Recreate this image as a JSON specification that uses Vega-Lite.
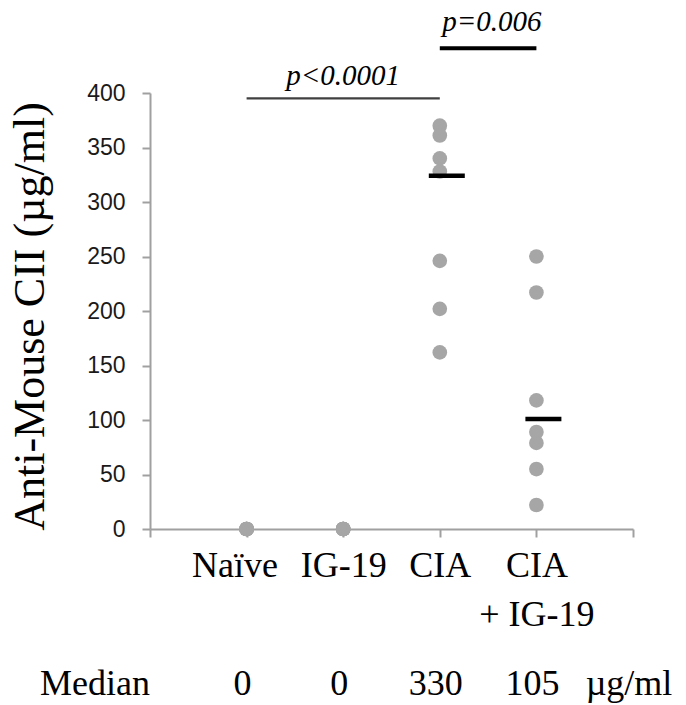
{
  "$schema": "https://vega.github.io/schema/vega-lite/v6.json",
  "width": 483,
  "height": 436,
  "autosize": {"type": "none"},
  "padding": {"left": 150, "top": 93, "right": 53, "bottom": 176},
  "background": "white",
  "config": {"view": {"stroke": null}},
  "datasets": {
    "points": [
      {"group": "Naïve", "value": 0}, {"group": "Naïve", "value": 0}, {"group": "Naïve", "value": 0},
      {"group": "Naïve", "value": 0}, {"group": "Naïve", "value": 0}, {"group": "Naïve", "value": 0},
      {"group": "IG-19", "value": 0}, {"group": "IG-19", "value": 0}, {"group": "IG-19", "value": 0},
      {"group": "IG-19", "value": 0}, {"group": "IG-19", "value": 0}, {"group": "IG-19", "value": 0},
      {"group": "CIA", "value": 370}, {"group": "CIA", "value": 361}, {"group": "CIA", "value": 340},
      {"group": "CIA", "value": 328}, {"group": "CIA", "value": 246}, {"group": "CIA", "value": 202},
      {"group": "CIA", "value": 162},
      {"group": "CIA + IG-19", "value": 250}, {"group": "CIA + IG-19", "value": 217}, {"group": "CIA + IG-19", "value": 118},
      {"group": "CIA + IG-19", "value": 89}, {"group": "CIA + IG-19", "value": 79}, {"group": "CIA + IG-19", "value": 55},
      {"group": "CIA + IG-19", "value": 22}
    ],
    "medians": [
      {"group": "CIA", "median": 324},
      {"group": "CIA + IG-19", "median": 101}
    ],
    "brackets": [
      {"from": "Naïve", "to": "CIA", "level": 395, "weight": "thin"},
      {"from": "CIA", "to": "CIA + IG-19", "level": 441, "weight": "thick"}
    ],
    "pvalues": [
      {"group": "IG-19", "level": 407, "label": "p<0.0001"},
      {"group": "CIA", "level": 457, "label": "p=0.006"}
    ],
    "medianRow": [
      {"group": "Median", "text": "Median"},
      {"group": "Naïve", "text": "0"},
      {"group": "IG-19", "text": "0"},
      {"group": "CIA", "text": "330"},
      {"group": "CIA + IG-19", "text": "105"},
      {"group": "µg/ml", "text": "µg/ml"}
    ]
  },
  "layer": [
    {
      "data": {"name": "points"},
      "mark": {"type": "circle", "size": 215, "color": "#a6a6a6", "opacity": 1},
      "encoding": {
        "x": {
          "field": "group", "type": "nominal",
          "title": null,
          "scale": {"type": "point", "domain": ["Median", "Naïve", "IG-19", "CIA", "CIA + IG-19", "µg/ml"], "padding": 0},
          "axis": {
            "title": null,
            "grid": false,
            "domainColor": "#a0a0a0", "domainWidth": 2,
            "tickColor": "#a0a0a0", "tickWidth": 2, "tickSize": 8,
            "labelFont": "Liberation Serif", "labelFontSize": 36, "labelColor": "black",
            "labelAngle": 0, "labelBaseline": "alphabetic", "labelPadding": 39,
            "labelLineHeight": 49, "labelOverlap": false, "labelBound": false, "labelFlush": false,
            "labelOffset": {"condition": {"test": "datum.value == 'Naïve'", "value": -12}, "value": 0},
            "labelExpr": "datum.value == 'CIA + IG-19' ? ['CIA', '+ IG-19'] : ((datum.value == 'Median' || datum.value == 'µg/ml') ? '' : datum.value)"
          }
        },
        "y": {
          "field": "value", "type": "quantitative",
          "title": "Anti-Mouse CII (µg/ml)",
          "scale": {"domain": [0, 400], "nice": false, "zero": true},
          "axis": {
            "values": [0, 50, 100, 150, 200, 250, 300, 350, 400],
            "grid": false,
            "domainColor": "#a0a0a0", "domainWidth": 2,
            "tickColor": "#a0a0a0", "tickWidth": 2, "tickSize": 8,
            "labelFont": "Liberation Sans", "labelFontSize": 23, "labelColor": "#1a1a1a", "labelPadding": 17,
            "title": "Anti-Mouse CII (µg/ml)",
            "titleFont": "Liberation Serif", "titleFontSize": 44, "titleFontWeight": "normal", "titleColor": "black",
            "titleAngle": -90, "titleAlign": "center", "titleBaseline": "alphabetic",
            "titleX": -107, "titleY": 223
          }
        }
      }
    },
    {
      "data": {"name": "medians"},
      "mark": {"type": "tick", "orient": "horizontal", "size": 36, "thickness": 4.5, "color": "black", "xOffset": 7, "opacity": 1},
      "encoding": {
        "x": {"field": "group", "type": "nominal", "scale": {"type": "point", "domain": ["Median", "Naïve", "IG-19", "CIA", "CIA + IG-19", "µg/ml"], "padding": 0}},
        "y": {"field": "median", "type": "quantitative", "scale": {"domain": [0, 400], "nice": false}}
      }
    },
    {
      "data": {"name": "brackets"},
      "mark": {"type": "rule"},
      "encoding": {
        "x": {"field": "from", "type": "nominal", "scale": {"type": "point", "domain": ["Median", "Naïve", "IG-19", "CIA", "CIA + IG-19", "µg/ml"], "padding": 0}},
        "x2": {"field": "to"},
        "y": {"field": "level", "type": "quantitative", "scale": {"domain": [0, 400], "nice": false}},
        "color": {"field": "weight", "type": "nominal", "scale": {"domain": ["thin", "thick"], "range": ["#404040", "#000000"]}, "legend": null},
        "strokeWidth": {"field": "weight", "type": "nominal", "scale": {"domain": ["thin", "thick"], "range": [2.2, 4]}, "legend": null}
      }
    },
    {
      "data": {"name": "pvalues"},
      "transform": [{"filter": "datum.group == 'IG-19'"}],
      "mark": {"type": "text", "font": "Liberation Serif", "fontStyle": "italic", "fontSize": 29, "baseline": "alphabetic", "align": "center", "color": "black"},
      "encoding": {
        "x": {"field": "group", "type": "nominal", "scale": {"type": "point", "domain": ["Median", "Naïve", "IG-19", "CIA", "CIA + IG-19", "µg/ml"], "padding": 0}},
        "y": {"field": "level", "type": "quantitative", "scale": {"domain": [0, 400], "nice": false}},
        "text": {"field": "label"}
      }
    },
    {
      "data": {"name": "pvalues"},
      "transform": [{"filter": "datum.group == 'CIA'"}],
      "mark": {"type": "text", "font": "Liberation Serif", "fontStyle": "italic", "fontSize": 29, "baseline": "alphabetic", "align": "center", "color": "black", "dx": 52},
      "encoding": {
        "x": {"field": "group", "type": "nominal", "scale": {"type": "point", "domain": ["Median", "Naïve", "IG-19", "CIA", "CIA + IG-19", "µg/ml"], "padding": 0}},
        "y": {"field": "level", "type": "quantitative", "scale": {"domain": [0, 400], "nice": false}},
        "text": {"field": "label"}
      }
    },
    {
      "data": {"name": "medianRow"},
      "transform": [{"filter": "datum.group != 'Median'"}],
      "mark": {"type": "text", "font": "Liberation Serif", "fontSize": 36, "baseline": "alphabetic", "align": "center", "color": "black", "dx": -4},
      "encoding": {
        "x": {"field": "group", "type": "nominal", "scale": {"type": "point", "domain": ["Median", "Naïve", "IG-19", "CIA", "CIA + IG-19", "µg/ml"], "padding": 0}},
        "y": {"datum": -152, "type": "quantitative", "scale": {"domain": [0, 400], "nice": false}},
        "text": {"field": "text"}
      }
    },
    {
      "data": {"name": "medianRow"},
      "transform": [{"filter": "datum.group == 'Median'"}],
      "mark": {"type": "text", "font": "Liberation Serif", "fontSize": 36, "baseline": "alphabetic", "align": "right", "color": "black"},
      "encoding": {
        "x": {"field": "group", "type": "nominal", "scale": {"type": "point", "domain": ["Median", "Naïve", "IG-19", "CIA", "CIA + IG-19", "µg/ml"], "padding": 0}},
        "y": {"datum": -152, "type": "quantitative", "scale": {"domain": [0, 400], "nice": false}},
        "text": {"field": "text"}
      }
    }
  ]
}
